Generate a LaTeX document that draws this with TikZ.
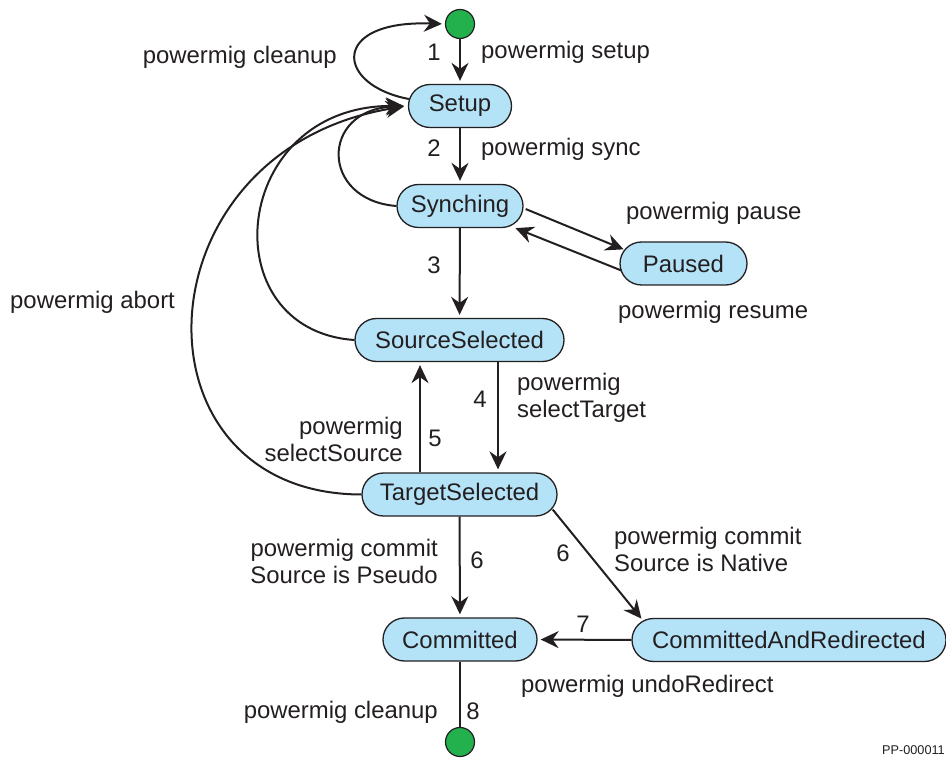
\documentclass[tikz,border=0pt]{standalone}
\usepackage{fontspec}
\setmainfont{Liberation Sans}
\usetikzlibrary{arrows.meta}
\definecolor{ink}{RGB}{35,31,32}
\definecolor{stfill}{RGB}{180,227,248}
\definecolor{dotgreen}{RGB}{34,177,76}
\begin{document}
\begin{tikzpicture}[x=1pt,y=-1pt,
  state/.style={draw=ink, line width=1.3pt, fill=stfill, rounded corners=21.5pt, minimum height=43pt, inner sep=0pt, font=\fontsize{23.9}{27}\selectfont, text=ink},
  dot/.style={circle, draw=ink, line width=1.2pt, fill=dotgreen, minimum size=29pt, inner sep=0pt},
  lbl/.style={inner sep=0pt, font=\fontsize{23.9}{27}\selectfont, text=ink},
  arr/.style={draw=ink, line width=2pt, -{Stealth[length=18pt,width=17pt,inset=6pt]}, shorten >=3pt},
  ln/.style={draw=ink, line width=2pt}]
\useasboundingbox (0,0) rectangle (946,759);
\fill[white] (0,0) rectangle (946,759);

% states
\node[dot] (init) at (460,24) {};
\node[state, minimum width=103pt] (setup) at (460,106) {Setup};
\node[state, minimum width=126pt] (sync) at (460,206) {Synching};
\node[state, minimum width=127pt] (paused) at (683.5,263.5) {Paused};
\node[state, minimum width=209pt] (srcsel) at (459.5,340) {SourceSelected};
\node[state, minimum width=195pt] (tgtsel) at (459.5,494.5) {TargetSelected};
\node[state, minimum width=154pt] (committed) at (460,639.5) {Committed};
\node[state, minimum width=314pt] (car) at (789,640) {CommittedAndRedirected};
\node[dot] (final) at (460,742) {};

% connectors
\draw[arr] (init) -- (setup);
\draw[arr] ([xshift=1pt,yshift=7pt]setup.west) .. controls (335,85) and (330,20) .. (init.west);
\draw[arr] (setup) -- (sync);
\draw[arr] (sync.west) .. controls (320,200) and (320,110) .. ([xshift=-1pt]setup.west);
\draw[arr] (srcsel.west) .. controls (210,330) and (230,105) .. ([xshift=-1pt]setup.west);
\draw[arr] (tgtsel.west) .. controls (125,494) and (135,150) .. ([xshift=-1pt]setup.west);
\draw[arr] ([xshift=2pt,yshift=-3pt]sync.east) -- ([xshift=7pt,yshift=13pt]paused.west);
\draw[arr] ([xshift=2pt,yshift=-7pt]paused.west) -- ([xshift=-11pt,yshift=-21pt]sync.east);
\draw[arr] (sync) -- (srcsel);
\draw[arr] ([xshift=38.5pt]srcsel.south) -- ([xshift=38.5pt]tgtsel.north);
\draw[arr] ([xshift=-39.5pt]tgtsel.north) -- ([xshift=-39.5pt]srcsel.south);
\draw[arr] (tgtsel) -- (committed);
\draw[arr] ([xshift=-5pt,yshift=-15pt]tgtsel.east) -- ([xshift=12pt,yshift=19pt]car.west);
\draw[arr] (car.west) -- (committed.east);
\draw[ln] (committed) -- (final);

% labels
\node[lbl, anchor=east] (l0) at (337,57) {powermig cleanup};
\node[lbl] (n1) at (434,52) {1};
\node[lbl, anchor=west] (l1) at (481,52) {powermig setup};
\node[lbl] (n2) at (434,148) {2};
\node[lbl, anchor=west] (l2) at (481,149) {powermig sync};
\node[lbl, anchor=west] (lp) at (626,213) {powermig pause};
\node[lbl] (n3) at (434,265) {3};
\node[lbl, anchor=west] (lr) at (618,312) {powermig resume};
\node[lbl, anchor=west] (la) at (10,302) {powermig abort};
\node[lbl] (n4) at (480,399) {4};
\node[lbl, anchor=west, align=left] (l4) at (517,398) {powermig\\selectTarget};
\node[lbl] (n5) at (435,438) {5};
\node[lbl, anchor=east, align=right] (l5) at (403,439) {powermig\\selectSource};
\node[lbl, anchor=east, align=right] (l6a) at (438,561) {powermig commit\\Source is Pseudo};
\node[lbl] (n6a) at (477,560) {6};
\node[lbl] (n6b) at (563,553) {6};
\node[lbl, anchor=west, align=left] (l6b) at (614,549) {powermig commit\\Source is Native};
\node[lbl] (n7) at (583,624) {7};
\node[lbl, anchor=west] (l7) at (521,686) {powermig undoRedirect};
\node[lbl, anchor=east] (l8) at (438,712) {powermig cleanup};
\node[lbl] (n8) at (473,711) {8};
\node[inner sep=0pt, anchor=east, font=\fontsize{12.7}{14}\selectfont, text=ink] (pp) at (945,750) {PP-000011};
\end{tikzpicture}
\end{document}
